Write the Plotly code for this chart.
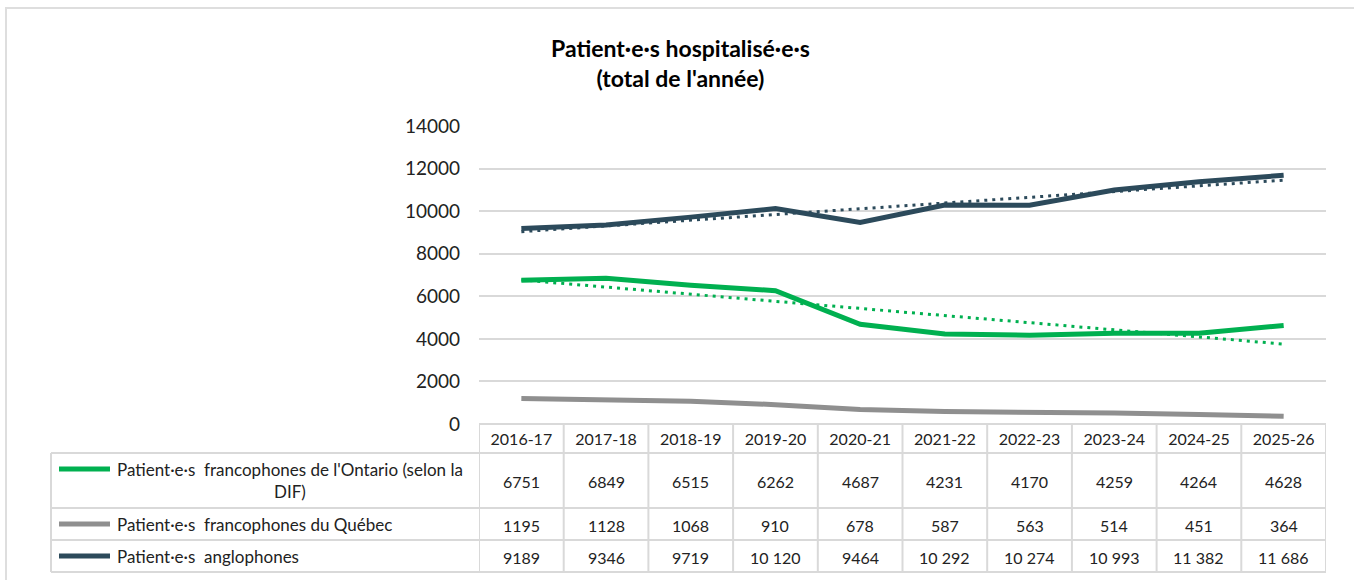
import numpy as np
import plotly.graph_objects as go

# ---------------- data ----------------
years = ["2016-17", "2017-18", "2018-19", "2019-20", "2020-21",
         "2021-22", "2022-23", "2023-24", "2024-25", "2025-26"]
ontario_fr = [6751, 6849, 6515, 6262, 4687, 4231, 4170, 4259, 4264, 4628]
quebec_fr = [1195, 1128, 1068, 910, 678, 587, 563, 514, 451, 364]
anglo = [9189, 9346, 9719, 10120, 9464, 10292, 10274, 10993, 11382, 11686]

series_names = [
    "Patient·e·s\u00a0 francophones de l'Ontario (selon la<br>DIF)",
    "Patient·e·s\u00a0 francophones du Québec",
    "Patient·e·s\u00a0 anglophones",
]
series_values = [ontario_fr, quebec_fr, anglo]
series_colors = ["#00b050", "#8f8f8f", "#2c4a5b"]
trend_for = [True, False, True]
y_ticks = [0, 2000, 4000, 6000, 8000, 10000, 12000, 14000]
title_text = "<b>Patient·e·s hospitalisé·e·s<br>(total de l'année)</b>"

# ---------------- layout geometry (pixels) ----------------
W, H = 1354, 580
PL, PR = 479, 1326      # plot area left / right
PT, PB = 126, 424       # plot area top / bottom
FONT = "Lato"
GRID = "#d9d9d9"

def xp(px):
    return (px - PL) / (PR - PL)

def yp(py):
    return (PB - py) / (PB - PT)

def fmt(v):
    return f"{v:,}".replace(",", " ") if v >= 10000 else str(v)

xi = np.arange(len(years))
fig = go.Figure()

# trendlines (linear fit, like Excel)
for vals, col, t in zip(series_values, series_colors, trend_for):
    if t:
        a, b = np.polyfit(xi, vals, 1)
        fig.add_trace(go.Scatter(
            x=years, y=a * xi + b, mode="lines",
            line=dict(color=col, width=3, dash="3px,5px"),
            hoverinfo="skip", showlegend=False))

# data lines
for name, vals, col in zip(series_names, series_values, series_colors):
    fig.add_trace(go.Scatter(
        x=years, y=vals, mode="lines", name=name,
        line=dict(color=col, width=5), showlegend=False))

shapes = []
annotations = []

# outer chart border
shapes.append(dict(type="rect", xref="paper", yref="paper",
                   x0=xp(6), x1=xp(W + 20), y0=yp(8), y1=yp(H + 20),
                   line=dict(color="#dedede", width=2), layer="below"))

# table geometry
row_edges = [424, 453, 508, 540, 572]
row_centers = [(row_edges[i] + row_edges[i + 1]) / 2 for i in range(1, 4)]
LEG_L = 51

# horizontal table lines
for k, ry in enumerate(row_edges):
    x0 = xp(LEG_L) if k >= 1 else 0
    shapes.append(dict(type="line", xref="paper", yref="paper",
                       x0=x0, x1=1, y0=yp(ry), y1=yp(ry),
                       line=dict(color=GRID, width=2)))
# vertical table lines
shapes.append(dict(type="line", xref="paper", yref="paper",
                   x0=xp(LEG_L), x1=xp(LEG_L), y0=yp(453), y1=yp(572),
                   line=dict(color=GRID, width=2)))
for i in range(len(years) + 1):
    shapes.append(dict(type="line", xref="x", yref="paper",
                       x0=i - 0.5, x1=i - 0.5, y0=yp(424), y1=yp(572),
                       line=dict(color=GRID, width=2)))

# legend keys + labels + values
key_y = [469, 524, 556]
for r, (name, vals, col) in enumerate(zip(series_names, series_values, series_colors)):
    shapes.append(dict(type="line", xref="paper", yref="paper",
                       x0=xp(59), x1=xp(110), y0=yp(key_y[r]), y1=yp(key_y[r]),
                       line=dict(color=col, width=5)))
    annotations.append(dict(
        xref="paper", yref="paper", x=xp(115), y=yp(row_centers[r]),
        xanchor="left", yanchor="middle", text=name, showarrow=False,
        align="center", font=dict(family=FONT, size=17, color="#222")))
    for i, v in enumerate(vals):
        annotations.append(dict(
            xref="x", yref="paper", x=i, y=yp(row_centers[r] + 1),
            xanchor="center", yanchor="middle", text=fmt(v), showarrow=False,
            font=dict(family=FONT, size=16, color="#222")))

# title
annotations.append(dict(
    xref="paper", yref="paper", x=xp(680), y=yp(63), xanchor="center",
    yanchor="middle", text=title_text, showarrow=False, align="center",
    font=dict(family=FONT, size=23, color="#000")))

fig.update_layout(
    width=W, height=H,
    margin=dict(l=PL, r=W - PR, t=PT, b=H - PB, pad=0),
    paper_bgcolor="white", plot_bgcolor="white",
    showlegend=False,
    shapes=shapes, annotations=annotations,
    xaxis=dict(type="category", range=[-0.5, len(years) - 0.5],
               showgrid=False, zeroline=False, showline=False, ticks="",
               tickfont=dict(family=FONT, size=16, color="#222"),
               ticklabelstandoff=4, fixedrange=True),
    yaxis=dict(range=[0, 14000], tickvals=y_ticks,
               ticktext=[str(t) for t in y_ticks],
               showgrid=True, gridcolor=GRID, gridwidth=2,
               zeroline=False, showline=False, ticks="",
               tickfont=dict(family=FONT, size=19, color="#222"),
               ticklabelstandoff=18, fixedrange=True),
)

fig.write_html("out.html", config={"displayModeBar": False},
               post_script="document.body.style.margin='0';")
